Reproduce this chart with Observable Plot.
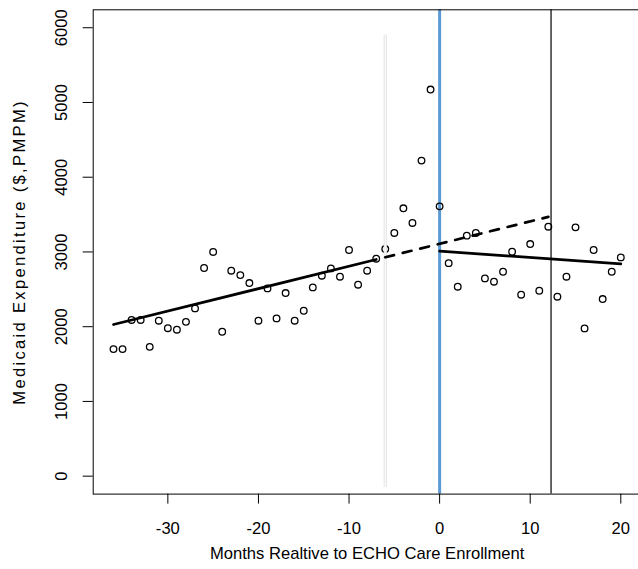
<!DOCTYPE html>
<html><head><meta charset="utf-8">
<script src="https://cdn.jsdelivr.net/npm/d3@7"></script>
<script src="https://cdn.jsdelivr.net/npm/@observablehq/plot@0.6"></script>
<style>
html,body{margin:0;padding:0;background:#fff;}
#chart svg{overflow:visible;display:block;}
</style></head><body><div id="chart"></div>
<script>
// Monthly observations (months relative to enrollment) and PMPM expenditure
const months = [-36,-35,-34,-33,-32,-31,-30,-29,-28,-27,-26,-25,-24,-23,-22,-21,-20,-19,-18,-17,-16,-15,-14,-13,-12,-11,-10,-9,-8,-7,-6,-5,-4,-3,-2,-1,0,1,2,3,4,5,6,7,8,9,10,11,12,13,14,15,16,17,18,19,20];
const expenditure = [1700,1700,2090,2090,1730,2080,1980,1960,2065,2245,2785,3000,1932,2749,2690,2584,2080,2512,2111,2450,2080,2213,2526,2682,2780,2669,3026,2562,2749,2910,3039,3254,3584,3388,4222,5173,3610,2850,2535,3218,3254,2646,2602,2735,3003,2428,3106,2481,3338,2401,2669,3329,1977,3026,2370,2735,2927];

// Fitted trend segments (endpoints)
const preTrendMonths = [-36, -7];
const preTrendValues = [2029, 2899];
const counterfactualMonths = [-6, 12];
const counterfactualValues = [2929, 3469];
const postTrendMonths = [0, 20];
const postTrendValues = [3010, 2841];

// Reference lines
const enrollmentMonth = [0];
const followUpMonth = [12.3];
const washoutMonth = [-6];
const washoutSpan = [-150, 5900];

// Axes
const xTicks = [-30, -20, -10, 0, 10, 20];
const yTicks = [0, 1000, 2000, 3000, 4000, 5000, 6000];
const xDomain = [-38.24, 22.24];
const yDomain = [-240, 6240];
const xLabel = "Months Realtive to ECHO Care Enrollment";
const yLabel = "Medicaid Expenditure ($,PMPM)";

const points = months.map((m, i) => ({month: m, value: expenditure[i]}));
const seg = (ms, vs) => ms.map((m, i) => ({month: m, value: vs[i]}));
const washout = washoutMonth.map(m => ({month: m, lo: washoutSpan[0], hi: washoutSpan[1]}));
const FS = 16.6;

const chart = Plot.plot({
  width: 638,
  height: 569,
  marginLeft: 92.7,
  marginRight: -2.6,
  marginTop: 9.3,
  marginBottom: 75.4,
  x: {domain: xDomain},
  y: {domain: yDomain},
  style: {fontFamily: "'Liberation Sans', Arial, sans-serif", fontSize: FS + "px", color: "#000", background: "#fff", overflow: "visible"},
  marks: [
    Plot.ruleX(enrollmentMonth, {stroke: "#5b9bd5", strokeWidth: 3}),
    Plot.ruleX(followUpMonth, {stroke: "#000", strokeWidth: 1.2}),
    Plot.dot(points, {x: "month", y: "value", r: 3.3, stroke: "#000", strokeWidth: 1.3, fill: "none"}),
    Plot.ruleX(washout, {x: "month", y1: "lo", y2: "hi", stroke: "#e4e4e4", strokeWidth: 3.2}),
    Plot.ruleX(washout, {x: "month", y1: "lo", y2: "hi", stroke: "#fcfcfc", strokeWidth: 1.2}),
    Plot.line(seg(preTrendMonths, preTrendValues), {x: "month", y: "value", stroke: "#000", strokeWidth: 2.7}),
    Plot.line(seg(counterfactualMonths, counterfactualValues), {x: "month", y: "value", stroke: "#000", strokeWidth: 2.7, strokeDasharray: "9,9"}),
    Plot.line(seg(postTrendMonths, postTrendValues), {x: "month", y: "value", stroke: "#000", strokeWidth: 2.7}),
    Plot.frame({stroke: "#000", strokeWidth: 1}),
    Plot.axisX({ticks: xTicks, tickSize: 10, tickPadding: 18, label: null, fontSize: FS, tickFormat: d => String(d)}),
    Plot.axisY({ticks: yTicks, tickSize: 10, tickPadding: 16, tickRotate: -90, label: null, fontSize: FS, tickFormat: d => String(d)}),
    Plot.text([xLabel], {text: d => d, frameAnchor: "bottom", dy: 65, lineAnchor: "bottom", textAnchor: "middle", fontSize: FS}),
    Plot.text([yLabel], {text: d => d, frameAnchor: "left", rotate: -90, dx: -68, lineAnchor: "bottom", textAnchor: "middle", fontSize: FS})
  ]
});
// rotated title in the reference is rendered with wider glyph spacing
d3.select(chart).selectAll("text").filter(function() { return this.textContent === yLabel; })
  .style("letter-spacing", "2.3px");
document.getElementById("chart").appendChild(chart);
</script>
</body></html>
